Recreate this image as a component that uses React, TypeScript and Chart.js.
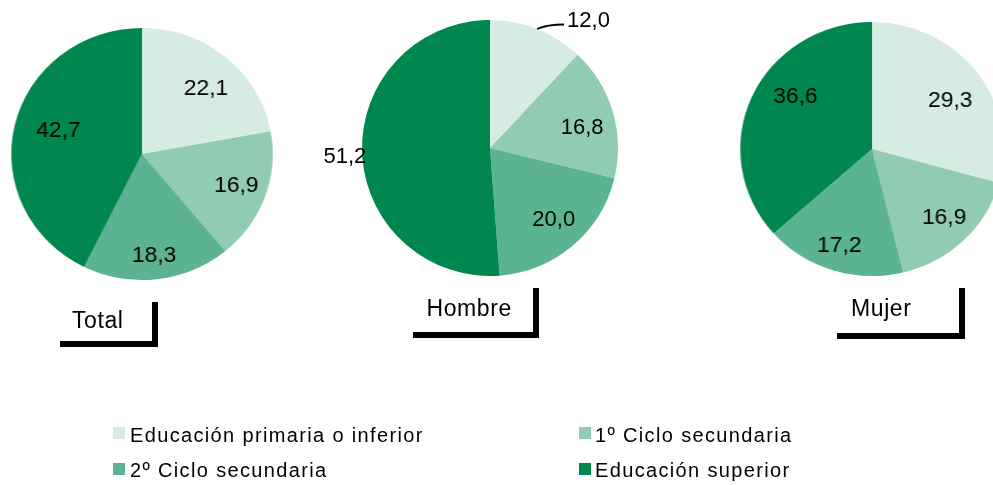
import React, { useEffect, useRef } from 'react';
import { Chart, registerables } from 'chart.js';

Chart.register(...registerables);

// ---- Data ----
const categories = [
  'Educación primaria o inferior',
  '1º Ciclo secundaria',
  '2º Ciclo secundaria',
  'Educación superior',
];
const groupNames = ['Total', 'Hombre', 'Mujer'];
const totalValues = [22.1, 16.9, 18.3, 42.7];
const hombreValues = [12.0, 16.8, 20.0, 51.2];
const mujerValues = [29.3, 16.9, 17.2, 36.6];

// ---- Styles / layout ----
const COLORS = ['#d6ece2', '#91cbb1', '#5bb391', '#00874d'];
const FONT = '"Liberation Sans", Arial, Helvetica, sans-serif';
const PAD = 60;
const LABEL_SIZE = 22;

type Place = { frac: number; dAng: number; leader?: boolean };
type PieLayout = {
  cx: number;
  cy: number;
  r: number;
  sx: number;
  places: Place[];
  box: { x: number; y: number; w: number; h: number };
  text: { x: number; y: number };
};

const LAYOUTS: PieLayout[] = [
  {
    cx: 142, cy: 154, r: 126, sx: 130.5 / 126,
    places: [
      { frac: 0.72, dAng: 3 },
      { frac: 0.76, dAng: -1.5 },
      { frac: 0.8, dAng: 0 },
      { frac: 0.67, dAng: 4 },
    ],
    box: { x: 54, y: 296, w: 98, h: 45 },
    text: { x: 72, y: 308.8 },
  },
  {
    cx: 490, cy: 148, r: 128, sx: 1,
    places: [
      { frac: 1, dAng: 0, leader: true },
      { frac: 0.74, dAng: 3 },
      { frac: 0.74, dAng: -2 },
      { frac: 1.135, dAng: -0.6 },
    ],
    box: { x: 407, y: 282, w: 126, h: 50 },
    text: { x: 426.5, y: 297.2 },
  },
  {
    cx: 872, cy: 149, r: 127, sx: 131.5 / 127,
    places: [
      { frac: 0.71, dAng: 4 },
      { frac: 0.76, dAng: -2 },
      { frac: 0.79, dAng: 1 },
      { frac: 0.72, dAng: 12 },
    ],
    box: { x: 831, y: 282, w: 128, h: 51 },
    text: { x: 851, y: 297.2 },
  },
];

const SERIES = [totalValues, hombreValues, mujerValues];

function fmt(v: number) {
  return v.toFixed(1).replace('.', ',');
}

function makeLabelPlugin(places: Place[]) {
  return {
    id: 'sliceLabels',
    afterDatasetsDraw(chart: any) {
      const ctx: CanvasRenderingContext2D = chart.ctx;
      const meta = chart.getDatasetMeta(0);
      const values = chart.data.datasets[0].data as number[];
      ctx.save();
      ctx.font = `${LABEL_SIZE}px ${FONT}`;
      ctx.fillStyle = '#000';
      ctx.strokeStyle = '#000';
      ctx.textBaseline = 'alphabetic';
      meta.data.forEach((el: any, i: number) => {
        const p = el.getProps(['x', 'y', 'startAngle', 'endAngle', 'outerRadius'], true);
        const place = places[i];
        const mid = (p.startAngle + p.endAngle) / 2 + (place.dAng * Math.PI) / 180;
        const text = fmt(values[i]);
        if (place.leader) {
          const ex = p.x + Math.cos(mid) * p.outerRadius;
          const ey = p.y + Math.sin(mid) * p.outerRadius;
          ctx.lineWidth = 1.8;
          ctx.beginPath();
          ctx.moveTo(ex, ey);
          ctx.quadraticCurveTo(ex + 10, ey - 4.5, ex + 27, ey - 4.5);
          ctx.stroke();
          ctx.textAlign = 'left';
          ctx.fillText(text, ex + 30, ey - 2);
        } else {
          const d = p.outerRadius * place.frac;
          const tx = p.x + Math.cos(mid) * d;
          const ty = p.y + Math.sin(mid) * d + LABEL_SIZE * 0.358;
          ctx.textAlign = 'center';
          ctx.fillText(text, tx, ty);
        }
      });
      ctx.restore();
    },
  };
}

function PieChart({ values, layout }: { values: number[]; layout: PieLayout }) {
  const ref = useRef<HTMLCanvasElement>(null);
  useEffect(() => {
    if (!ref.current) return;
    const chart = new Chart(ref.current, {
      type: 'pie',
      data: {
        labels: categories,
        datasets: [
          {
            data: values,
            backgroundColor: COLORS,
            borderWidth: 0,
          },
        ],
      },
      options: {
        responsive: false,
        maintainAspectRatio: false,
        animation: false,
        events: [],
        layout: { padding: PAD },
        plugins: {
          legend: { display: false },
          tooltip: { enabled: false },
        },
      },
      plugins: [makeLabelPlugin(layout.places)],
    } as any);
    return () => chart.destroy();
  }, [values, layout]);
  const size = 2 * (layout.r + PAD);
  return (
    <canvas
      ref={ref}
      width={size}
      height={size}
      style={{
        position: 'absolute',
        left: layout.cx - (layout.r + PAD) * layout.sx,
        top: layout.cy - layout.r - PAD,
        width: size * layout.sx,
        height: size,
      }}
    />
  );
}

const LEGEND_POS = [
  { sx: 113, sy: 427, tx: 130, ty: 425 },
  { sx: 579, sy: 427, tx: 595, ty: 425 },
  { sx: 113, sy: 463, tx: 130, ty: 460 },
  { sx: 579, sy: 463, tx: 595, ty: 460 },
];

export default function App() {
  return (
    <div
      style={{
        position: 'absolute',
        left: 0,
        top: 0,
        width: 993,
        height: 485,
        overflow: 'hidden',
        background: '#fff',
        fontFamily: FONT,
        color: '#000',
      }}
    >
      {LAYOUTS.map((lay, i) => (
        <PieChart key={'pie' + i} values={SERIES[i]} layout={lay} />
      ))}
      {LAYOUTS.map((lay, i) => (
        <React.Fragment key={'box' + i}>
          <div
            style={{
              position: 'absolute',
              left: lay.box.x,
              top: lay.box.y,
              width: lay.box.w,
              height: lay.box.h,
              background: '#fff',
              boxShadow: '6px 6px 0 0 #000',
            }}
          />
          <div
            style={{
              position: 'absolute',
              left: lay.text.x,
              top: lay.text.y,
              fontSize: 23,
              lineHeight: '23px',
              letterSpacing: '0.6px',
              whiteSpace: 'nowrap',
            }}
          >
            {groupNames[i]}
          </div>
        </React.Fragment>
      ))}
      {categories.map((c, i) => (
        <React.Fragment key={'lg' + i}>
          <div
            style={{
              position: 'absolute',
              left: LEGEND_POS[i].sx,
              top: LEGEND_POS[i].sy,
              width: 12,
              height: 12,
              background: COLORS[i],
            }}
          />
          <div
            style={{
              position: 'absolute',
              left: LEGEND_POS[i].tx,
              top: LEGEND_POS[i].ty,
              fontSize: 20,
              lineHeight: '20px',
              letterSpacing: '1.35px',
              whiteSpace: 'nowrap',
            }}
          >
            {c}
          </div>
        </React.Fragment>
      ))}
    </div>
  );
}
